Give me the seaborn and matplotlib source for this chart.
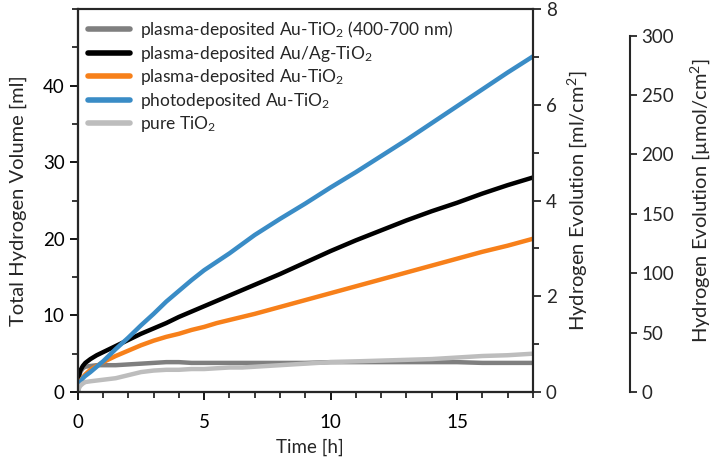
import numpy as np
import pandas as pd
import matplotlib
matplotlib.use("Agg")
import matplotlib.pyplot as plt
import seaborn as sns
from matplotlib.ticker import MultipleLocator

# --- data (time in h, volume in ml) ---
t_main = [0, 0.05, 0.1, 0.2, 0.3, 0.5, 0.75, 1, 1.25, 1.5, 2, 2.5, 3, 3.5, 4, 4.5, 5, 5.5,
          6, 6.5, 7, 8, 9, 10, 11, 12, 13, 14, 15, 16, 17, 18]

blue = [0, 0.8, 1.3, 1.8, 2.1, 2.6, 3.3, 4.0, 4.8, 5.6, 7.1, 8.7, 10.2, 11.8, 13.2, 14.6,
        15.9, 17.0, 18.1, 19.3, 20.5, 22.6, 24.6, 26.7, 28.7, 30.8, 32.9, 35.1, 37.3, 39.5,
        41.7, 43.8]
black = [0, 2.2, 2.8, 3.4, 3.8, 4.3, 4.8, 5.2, 5.6, 6.0, 6.8, 7.6, 8.3, 9.0, 9.8, 10.5,
         11.2, 11.9, 12.6, 13.3, 14.0, 15.4, 16.9, 18.4, 19.8, 21.1, 22.4, 23.6, 24.7,
         25.9, 27.0, 28.0]
orange = [0, 0.9, 1.4, 1.9, 2.3, 2.9, 3.4, 3.9, 4.3, 4.7, 5.4, 6.1, 6.7, 7.2, 7.6, 8.1,
          8.5, 9.0, 9.4, 9.8, 10.2, 11.1, 12.0, 12.9, 13.8, 14.7, 15.6, 16.5, 17.4, 18.3,
          19.1, 20.0]
dark_gray = [0, 1.8, 2.6, 3.1, 3.3, 3.4, 3.5, 3.5, 3.5, 3.5, 3.6, 3.7, 3.8, 3.9, 3.9, 3.8,
             3.8, 3.8, 3.8, 3.8, 3.8, 3.8, 3.8, 3.9, 3.9, 3.9, 3.9, 3.9, 3.9, 3.8, 3.8, 3.8]
light_gray = [0, 0.5, 0.8, 1.1, 1.3, 1.4, 1.5, 1.6, 1.7, 1.8, 2.2, 2.6, 2.8, 2.9, 2.9, 3.0,
              3.0, 3.1, 3.2, 3.2, 3.3, 3.5, 3.7, 3.9, 4.0, 4.1, 4.2, 4.3, 4.5, 4.7, 4.8, 5.0]

labels = [
    r"plasma-deposited Au-TiO$_2$ (400-700 nm)",
    r"plasma-deposited Au/Ag-TiO$_2$",
    r"plasma-deposited Au-TiO$_2$",
    r"photodeposited Au-TiO$_2$",
    r"pure TiO$_2$",
]
colors = ["#7f7f7f", "#000000", "#f7801a", "#3a8cc6", "#bdbdbd"]
series = [dark_gray, black, orange, blue, light_gray]

AREA_CM2 = 6.25        # ml -> ml/cm2
UMOL_PER_ML = 40.3     # ml/cm2 -> umol/cm2

df = pd.concat(
    [pd.DataFrame({"time": t_main, "volume": vals, "sample": lab})
     for lab, vals in zip(labels, series)],
    ignore_index=True,
)

sns.set_style("ticks")
plt.rcParams["font.family"] = ["Lato", "DejaVu Sans"]
plt.rcParams["mathtext.fontset"] = "custom"
plt.rcParams["mathtext.rm"] = "Lato"
plt.rcParams["mathtext.it"] = "Lato:italic"
plt.rcParams["axes.linewidth"] = 1.5

fig = plt.figure(figsize=(7.2, 4.62), dpi=100)
ax = fig.add_axes([0.108, 0.1515, 0.632, 0.829])

sns.lineplot(data=df, x="time", y="volume", hue="sample", hue_order=labels,
             palette=dict(zip(labels, colors)), linewidth=3.2, ax=ax, legend=False)

ax.set_xlim(0, 18)
ax.set_ylim(0, 50)
ax.set_yticks([0, 10, 20, 30, 40])
ax.yaxis.set_minor_locator(MultipleLocator(5))
ax.xaxis.set_major_locator(MultipleLocator(5))
ax.xaxis.set_minor_locator(MultipleLocator(1))
ax.tick_params(which="major", length=6, width=1.3, labelsize=13.5, colors="black")
ax.tick_params(which="minor", length=4.5, width=1.3)
ax.tick_params(axis="x", pad=10)
ax.set_xlabel("Time [h]", fontsize=13.5)
ax.set_ylabel("Total Hydrogen Volume [ml]", fontsize=14.5, labelpad=11)
ax.xaxis.set_label_coords(0.51, -0.122)

handles = [plt.Line2D([], [], color=c, linewidth=4) for c in colors]
ax.legend(handles, labels, loc="upper left", frameon=False, fontsize=12.5,
          handlelength=2.4, handletextpad=0.6, labelspacing=0.2,
          borderaxespad=0.2, bbox_to_anchor=(0.0, 1.0))

# second axis: ml/cm2
ax2 = ax.twinx()
ax2.set_ylim(0, 50 / AREA_CM2)
ax2.yaxis.set_major_locator(MultipleLocator(2))
ax2.yaxis.set_minor_locator(MultipleLocator(1))
ax2.tick_params(which="major", length=6, width=1.3, labelsize=13.5)
ax2.tick_params(which="minor", length=4.5, width=1.3)
ax2.set_ylabel("Hydrogen Evolution [ml/cm$^2$]", fontsize=14.5, labelpad=6)

# third axis: umol/cm2
ax3 = ax.twinx()
ax3.spines["right"].set_position(("axes", 1.213))
ax3.spines["right"].set_bounds(0, 300)
ax3.spines["top"].set_visible(False)
ax3.set_ylim(0, 50 / AREA_CM2 * UMOL_PER_ML)
ax3.set_yticks([0, 50, 100, 150, 200, 250, 300])
ax3.tick_params(which="major", length=5, width=1.3, labelsize=13.5)
ax3.set_ylabel("Hydrogen Evolution [µmol/cm$^2$]", fontsize=14.5, labelpad=10)

for a in (ax, ax2, ax3):
    for s in a.spines.values():
        s.set_linewidth(1.5)

fig.savefig("out.png", dpi=100)
